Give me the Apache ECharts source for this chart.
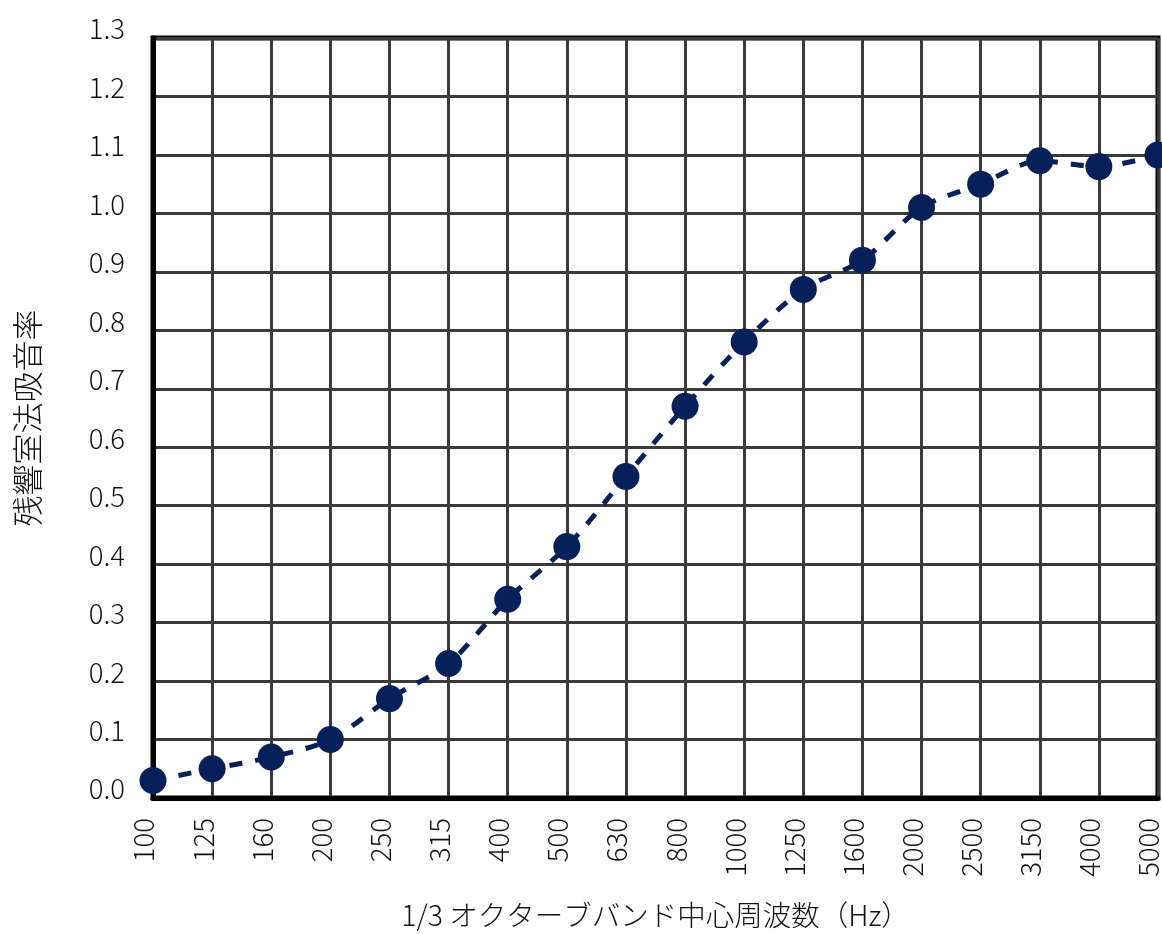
<!DOCTYPE html>
<html><head><meta charset="utf-8">
<script src="https://cdn.jsdelivr.net/npm/echarts@6/dist/echarts.min.js"></script>
<style>html,body{margin:0;padding:0;background:#fff}#c{width:1162px;height:934px}</style>
</head><body><div id="c"></div>
<script>
const categories = ['100','125','160','200','250','315','400','500','630','800','1000','1250','1600','2000','2500','3150','4000','5000'];
const absorption = [0.03,0.05,0.07,0.10,0.17,0.23,0.34,0.43,0.55,0.67,0.78,0.87,0.92,1.01,1.05,1.09,1.08,1.10];
const yTicks = {min:0, max:1.3, interval:0.1};
const xTitle = '1/3 オクターブバンド中心周波数（Hz）';
const yTitle = '残響室法吸音率';

const FONT = '"Noto Sans CJK JP","Noto Sans",sans-serif';
const chart = echarts.init(document.getElementById('c'));
chart.setOption({
  animation:false,
  grid:{left:153,right:4,top:38,bottom:136,show:true,borderColor:'#000',borderWidth:5,backgroundColor:'transparent',
    outerBoundsMode:'none',containLabel:false},
  xAxis:{
    type:'category', data:categories, boundaryGap:false,
    name:xTitle, nameLocation:'middle', nameGap:103,
    nameTextStyle:{fontSize:28.5,color:'#111',fontFamily:FONT,fontWeight:300},
    axisLine:{show:true,lineStyle:{color:'#000',width:5}},
    axisTick:{show:false},
    splitLine:{show:true,lineStyle:{color:'#3a3a3a',width:3}},
    axisLabel:{rotate:90,margin:20,fontSize:27.5,color:'#111',fontFamily:FONT,fontWeight:300,
      verticalAlign:'bottom',lineHeight:18,interval:0}
  },
  yAxis:{
    type:'value', min:yTicks.min, max:yTicks.max, interval:yTicks.interval,
    name:yTitle, nameLocation:'middle', nameGap:110, nameRotate:90,
    nameTextStyle:{fontSize:31,color:'#111',fontFamily:FONT,fontWeight:300},
    axisLine:{show:true,lineStyle:{color:'#000',width:5}},
    axisTick:{show:false},
    splitLine:{show:true,lineStyle:{color:'#3a3a3a',width:3}},
    axisLabel:{margin:28,fontSize:27.5,color:'#111',fontFamily:FONT,fontWeight:300,
      verticalAlign:'bottom',lineHeight:18,
      formatter:v=>v.toFixed(1)}
  },
  series:[{
    type:'line', data:absorption, smooth:0.3, clip:false,
    symbol:'circle', symbolSize:27,
    itemStyle:{color:'#06205a'},
    lineStyle:{color:'#06205a',width:5,type:[13,13]},
    z:5
  }]
});
</script></body></html>
